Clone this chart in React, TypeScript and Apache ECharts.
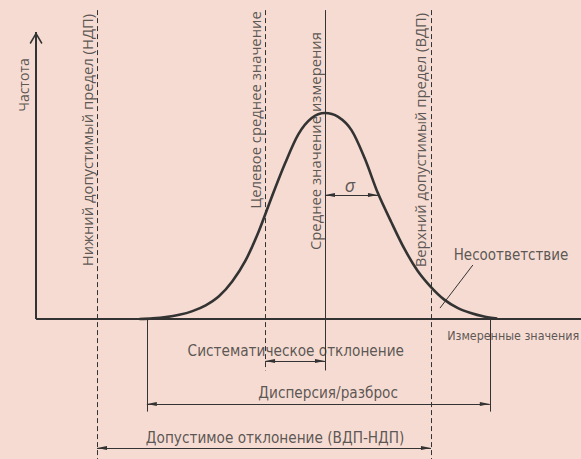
import React, { useEffect, useRef } from "react";
import * as echarts from "echarts";

// Axis extents (data units: measured value on x, relative frequency on y)
const X_RANGE = [-11.3, 98.3];
const Y_RANGE = [-0.68, 1.549];

const CURVE_X = [15, 17.5, 20, 22.5, 25, 27.5, 30, 32.5, 35, 37.5, 40, 42.5, 45, 47.5, 50, 52.5, 55, 57.5, 60, 62.5, 65, 67.5, 70, 72.5, 75, 77.5, 80, 82.5];
const CURVE_Y = [0, 0.003, 0.009, 0.02, 0.038, 0.066, 0.11, 0.182, 0.283, 0.425, 0.595, 0.757, 0.898, 0.976, 1.0, 0.981, 0.917, 0.78, 0.61, 0.471, 0.34, 0.233, 0.155, 0.094, 0.054, 0.029, 0.012, 0.002];

// Key values on the measured-value axis
const ORIGIN_X = -4.5;
const LOWER_LIMIT = 7;
const TARGET = 38.7;
const MEAN = 50;
const SIGMA = 10;
const UPPER_LIMIT = 70;
const SPREAD = [16.4, 81.1];

// Levels on the frequency axis used by the annotation lines
const LINE_TOP = 1.5;
const AXIS_TOP = 1.393;
const PAGE_BOTTOM = -0.68;
const MID_BOTTOM = -0.25;
const SPREAD_BOTTOM = -0.45;
const SIGMA_LEVEL = 0.602;
const BIAS_LEVEL = -0.204;
const SPREAD_LEVEL = -0.413;
const TOLERANCE_LEVEL = -0.626;

// Texts
const Y_TITLE = "Частота";
const X_TITLE = "Измеренные значения";
const LOWER_TEXT = "Нижний допустимый предел (НДП)";
const TARGET_TEXT = "Целевое среднее значение";
const MEAN_TEXT = "Среднее значение измерения";
const UPPER_TEXT = "Верхний допустимый предел (ВДП)";
const SIGMA_TEXT = "σ";
const BIAS_TEXT = "Систематическое отклонение";
const SPREAD_TEXT = "Дисперсия/разброс";
const TOLERANCE_TEXT = "Допустимое отклонение (ВДП-НДП)";
const NONCONF_TEXT = "Несоответствие";

const INK = "#333333";
const BG = "#f5dbd1";
const ARROW = "path://M2,0 L2,0.05 M2,10 L4,20 L0,20 Z";
const CHEVRON = "path://M6.5,0 L6.5,0.05 M6.5,12 L13,23 L11.7,24 L6.5,15 L1.3,24 L0,23 Z";
const WIDE_FONT = "'Open Sans', 'Noto Sans', sans-serif";
const NARROW_FONT = "'Liberation Sans Narrow', 'DejaVu Sans Condensed', 'Roboto', sans-serif";

type Pt = [number, number];

function seg(a: Pt, b: Pt, style: any, startSym = "none", endSym = "none", symSize: any = [4, 20]) {
  return [
    { coord: a, symbol: startSym, symbolSize: symSize, lineStyle: style },
    { coord: b, symbol: endSym, symbolSize: symSize },
  ];
}

export default function App() {
  const ref = useRef<HTMLDivElement>(null);
  useEffect(() => {
    if (!ref.current) return;
    const chart = echarts.init(ref.current, undefined, { renderer: "svg" });
    const solid = { color: INK, width: 1, type: "solid" };
    const dashed = { color: INK, width: 1, type: [5, 3] };
    const thick = { color: INK, width: 2, type: "solid" };

    const lines = [
      // axes
      seg([ORIGIN_X, 0], [ORIGIN_X, AXIS_TOP], thick, "none", CHEVRON, [13, 24]),
      seg([ORIGIN_X, 0], [X_RANGE[1], 0], thick),
      // limits and centre lines
      seg([LOWER_LIMIT, LINE_TOP], [LOWER_LIMIT, PAGE_BOTTOM], dashed),
      seg([UPPER_LIMIT, LINE_TOP], [UPPER_LIMIT, PAGE_BOTTOM], dashed),
      seg([TARGET, LINE_TOP], [TARGET, MID_BOTTOM], dashed),
      seg([MEAN, LINE_TOP], [MEAN, MID_BOTTOM], solid),
      seg([SPREAD[0], 0], [SPREAD[0], SPREAD_BOTTOM], solid),
      seg([SPREAD[1], 0], [SPREAD[1], SPREAD_BOTTOM], solid),
      // dimension arrows
      seg([MEAN, SIGMA_LEVEL], [MEAN + SIGMA, SIGMA_LEVEL], solid, ARROW, ARROW),
      seg([TARGET, BIAS_LEVEL], [MEAN, BIAS_LEVEL], solid, ARROW, ARROW),
      seg([SPREAD[0], SPREAD_LEVEL], [SPREAD[1], SPREAD_LEVEL], solid, ARROW, ARROW),
      seg([LOWER_LIMIT, TOLERANCE_LEVEL], [UPPER_LIMIT, TOLERANCE_LEVEL], solid, ARROW, ARROW),
      // leader to the nonconformity tail
      seg([77.9, 0.262], [71.7, 0.053], solid),
    ];

    const vLabel = { rotate: 90, fontFamily: WIDE_FONT, fontSize: 14.8 };
    const hLabel = { rotate: 0, fontFamily: NARROW_FONT, fontSize: 15.2 };
    const texts = [
      { value: [-6.8, 1.136], label: { ...vLabel, fontSize: 14, formatter: Y_TITLE } },
      { value: [LOWER_LIMIT - 1.9, 0.869], label: { ...vLabel, formatter: LOWER_TEXT } },
      { value: [TARGET - 1.9, 1.015], label: { ...vLabel, formatter: TARGET_TEXT } },
      { value: [MEAN - 1.9, 0.864], label: { ...vLabel, formatter: MEAN_TEXT } },
      { value: [UPPER_LIMIT - 2.1, 0.869], label: { ...vLabel, formatter: UPPER_TEXT } },
      { value: [MEAN + 4.7, 0.65], label: { rotate: 0, fontFamily: WIDE_FONT, fontSize: 18, fontStyle: "italic", formatter: SIGMA_TEXT } },
      { value: [44.5, -0.155], label: { ...hLabel, formatter: BIAS_TEXT } },
      { value: [50.6, -0.359], label: { ...hLabel, formatter: SPREAD_TEXT } },
      { value: [40.6, -0.578], label: { ...hLabel, formatter: TOLERANCE_TEXT } },
      { value: [85.5, -0.078], label: { ...hLabel, fontSize: 12.4, formatter: X_TITLE } },
      { value: [85.1, 0.311], label: { ...hLabel, fontSize: 15, formatter: NONCONF_TEXT } },
    ];

    chart.setOption({
      animation: false,
      backgroundColor: BG,
      grid: { left: 0, right: 0, top: 0, bottom: 0 },
      xAxis: { type: "value", min: X_RANGE[0], max: X_RANGE[1], show: false },
      yAxis: { type: "value", min: Y_RANGE[0], max: Y_RANGE[1], show: false },
      series: [
        {
          type: "line",
          data: CURVE_X.map((x, i) => [x, CURVE_Y[i]]),
          smooth: 0.3,
          showSymbol: false,
          symbol: "none",
          lineStyle: { color: "#333", width: 2.6 },
          z: 3,
          markLine: {
            silent: true,
            label: { show: false },
            itemStyle: { color: INK },
            data: lines,
          },
        },
        {
          type: "scatter",
          symbolSize: 0,
          silent: true,
          label: {
            show: true,
            position: "inside",
            align: "center",
            verticalAlign: "middle",
            color: INK,
          },
          data: texts,
          z: 5,
        },
      ],
    });
    return () => chart.dispose();
  }, []);
  return <div ref={ref} style={{ position: "absolute", left: 0, top: 0, width: 581, height: 459 }} />;
}
